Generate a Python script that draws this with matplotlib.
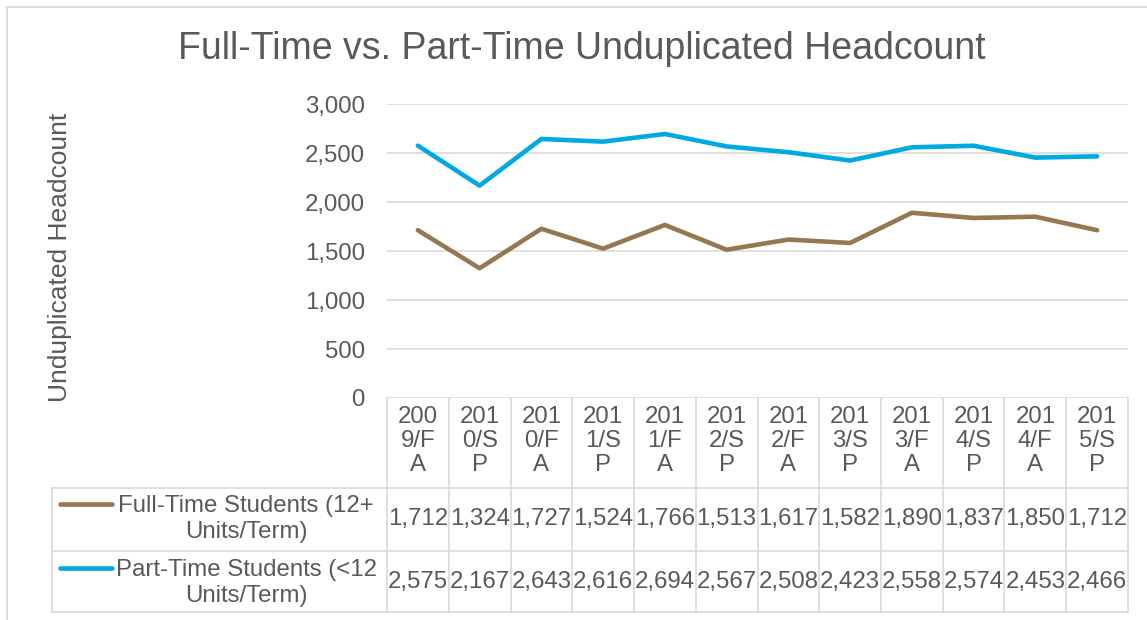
import matplotlib.pyplot as plt
import matplotlib.transforms as mtransforms
from matplotlib.lines import Line2D
from matplotlib.patches import Rectangle

# data
terms = ['2009/FA', '2010/SP', '2010/FA', '2011/SP', '2011/FA', '2012/SP',
         '2012/FA', '2013/SP', '2013/FA', '2014/SP', '2014/FA', '2015/SP']
full_time = [1712, 1324, 1727, 1524, 1766, 1513, 1617, 1582, 1890, 1837, 1850, 1712]
part_time = [2575, 2167, 2643, 2616, 2694, 2567, 2508, 2423, 2558, 2574, 2453, 2466]
series_names = ['Full-Time Students (12+\nUnits/Term)', 'Part-Time Students (<12\nUnits/Term)']
series_colors = ['#967850', '#00A9E0']
y_ticks = [0, 500, 1000, 1500, 2000, 2500, 3000]

W, H = 1147, 620
TXT = '#595959'
GRID = '#D9D9D9'
FS = 17.3
plt.rcParams['font.family'] = ['Liberation Sans', 'DejaVu Sans']

fig = plt.figure(figsize=(W / 100, H / 100), dpi=100)


def fy(py):
    return 1 - py / H


def fx(px):
    return px / W


# outer chart border (right and bottom edges fall outside the picture)
fig.add_artist(Rectangle((fx(7), fy(640)), fx(1170) - fx(7), fy(7) - fy(640),
                         transform=fig.transFigure, fill=False, ec=GRID, lw=1.3))

ax = fig.add_axes([fx(387), fy(398), fx(1128) - fx(387), fy(104) - fy(398)])
x = list(range(len(terms)))
ax.plot(x, full_time, color=series_colors[0], lw=3.3, solid_capstyle='round')
ax.plot(x, part_time, color=series_colors[1], lw=3.3, solid_capstyle='round')
ax.set_xlim(-0.5, len(terms) - 0.5)
ax.set_ylim(0, 3000)
ax.set_yticks(y_ticks)
ax.set_yticklabels([f'{v:,}' for v in y_ticks])
ax.set_xticks([])
ax.tick_params(axis='y', length=0, pad=16, labelsize=FS, labelcolor=TXT)
ax.yaxis.grid(True, color=GRID, lw=1.2)
ax.set_axisbelow(True)
for s in ax.spines.values():
    s.set_visible(False)

fig.text(fx(582), fy(49), 'Full-Time vs. Part-Time Unduplicated Headcount',
         ha='center', va='center', fontsize=27, color=TXT)
fig.text(fx(60), fy(257), 'Unduplicated Headcount', rotation=90,
         ha='center', va='center', fontsize=19, color=TXT)

# data table below the plot
bt = mtransforms.blended_transform_factory(ax.transData, fig.transFigure)
top, r1, r2, bot = 398, 488, 551, 612
n = len(terms)
for i in range(n + 1):
    xe = i - 0.5
    fig.add_artist(Line2D([xe, xe], [fy(top), fy(bot)], transform=bt, color=GRID, lw=1.2))
# row borders spanning the legend column
for yy in (r1, r2, bot):
    fig.add_artist(Line2D([fx(52), fx(1128)], [fy(yy), fy(yy)],
                          transform=fig.transFigure, color=GRID, lw=1.2))
fig.add_artist(Line2D([fx(52), fx(52)], [fy(r1), fy(bot)],
                      transform=fig.transFigure, color=GRID, lw=1.2))

for i, t in enumerate(terms):
    lab = '\n'.join(t[k:k + 3] for k in range(0, len(t), 3))
    ax.text(i, fy(441), lab, transform=bt, ha='center', va='center',
            fontsize=FS, color=TXT, linespacing=1.14)
    ax.text(i, fy(519), f'{full_time[i]:,}', transform=bt, ha='center',
            va='center', fontsize=FS, color=TXT)
    ax.text(i, fy(582), f'{part_time[i]:,}', transform=bt, ha='center',
            va='center', fontsize=FS, color=TXT)

for name, col, ym in zip(series_names, series_colors, [504, 568]):
    fig.add_artist(Line2D([fx(60), fx(112)], [fy(ym), fy(ym)],
                          transform=fig.transFigure, color=col, lw=3.3,
                          solid_capstyle='round'))
    fig.text(fx(246), fy(ym + 15), name, ha='center', va='center', fontsize=FS,
             color=TXT, multialignment='center', linespacing=1.18)

fig.savefig('out.png', dpi=100)
